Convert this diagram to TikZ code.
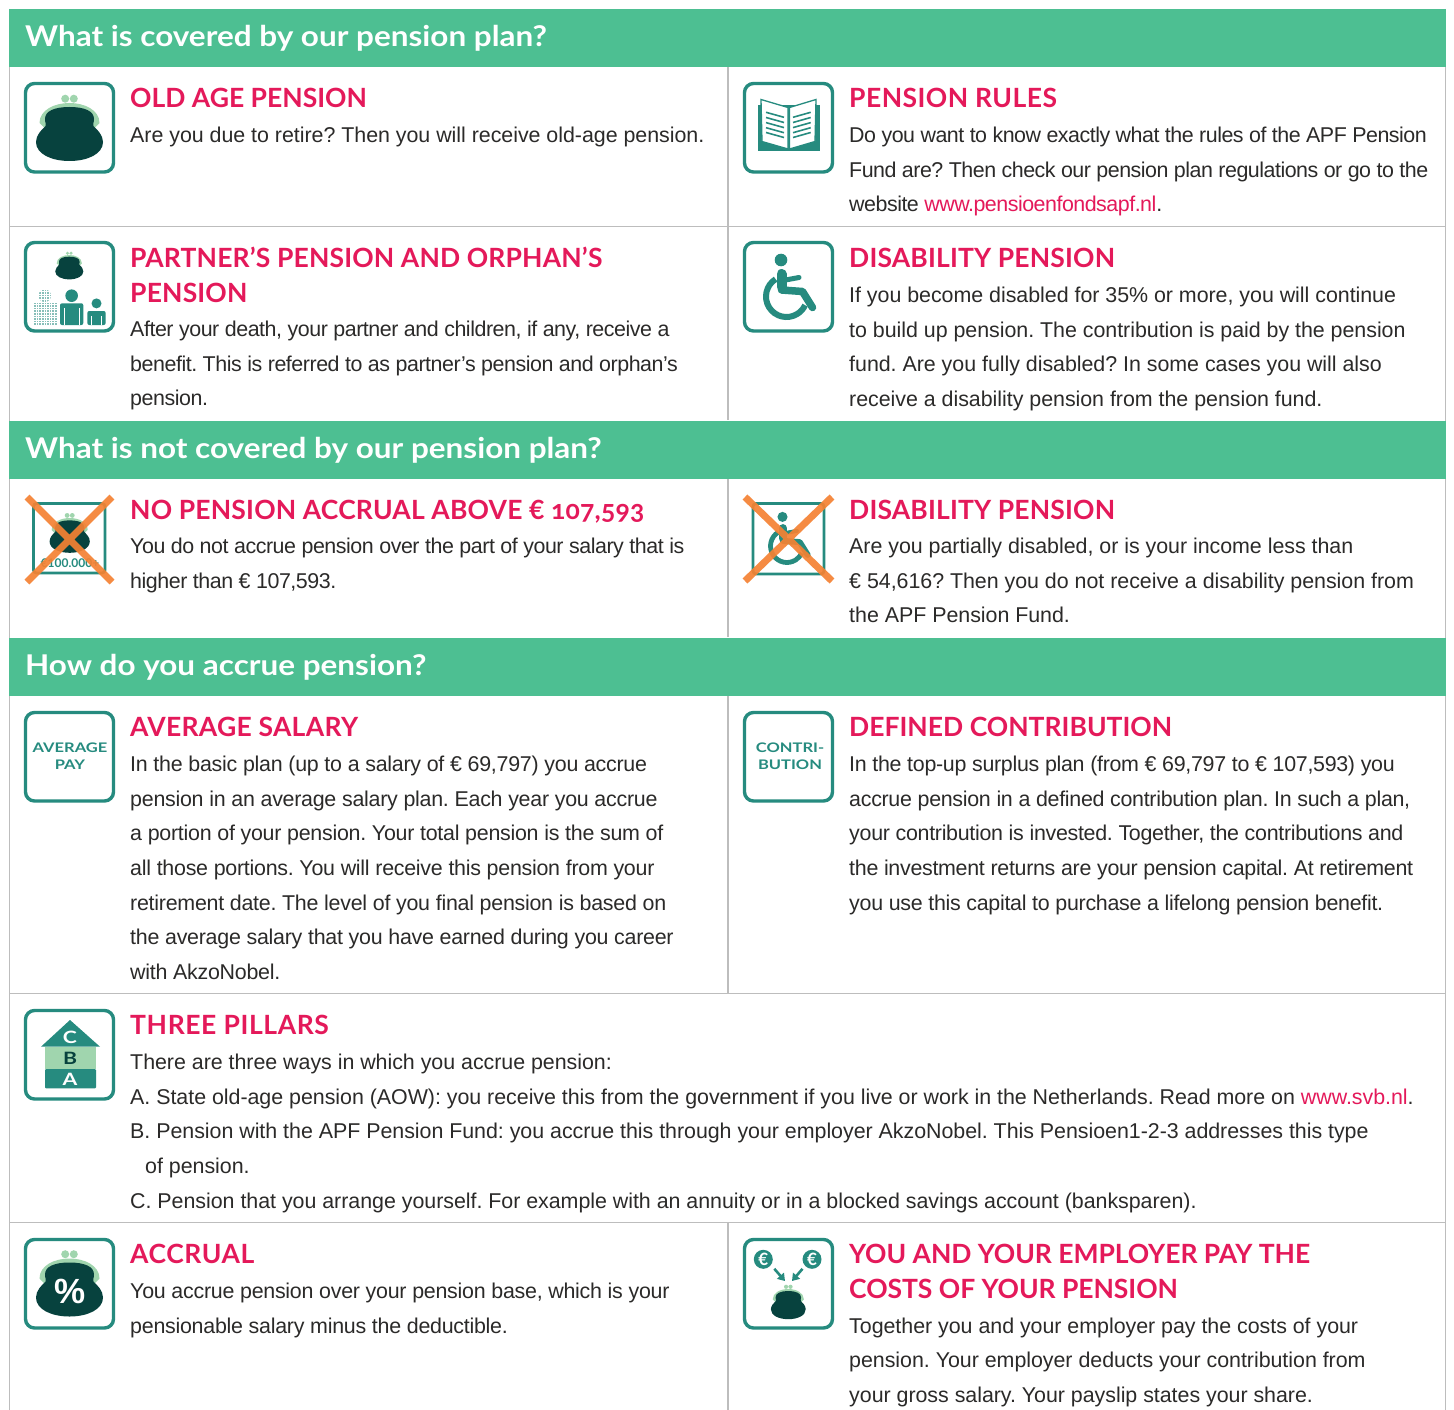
\documentclass[tikz,border=0pt]{standalone}
\usepackage{fontspec}
\usetikzlibrary{arrows.meta}
\setmainfont{Liberation Sans}
\newfontfamily\headfont[Numbers=OldStyle]{Lato}
\newfontfamily\liningfont{Lato}
\newfontfamily\bandfont[FakeStretch=1.1]{Lato}
\newfontfamily\iconfont[FakeStretch=1.25]{Lato}
\definecolor{bandgreen}{HTML}{4DBF92}
\definecolor{headred}{HTML}{E4195A}
\definecolor{iconteal}{HTML}{268B7F}
\definecolor{darkteal}{HTML}{07423E}
\definecolor{lightgreen}{HTML}{A0D5AE}
\definecolor{crossorange}{HTML}{F58233}
\definecolor{bodyink}{HTML}{2B2A29}
\definecolor{gridgrey}{HTML}{BDBDBD}
\tikzset{
  x=1pt,y=-1pt,
  band/.style={fill=bandgreen,draw=none},
  bandtext/.style={anchor=base west,inner sep=0,text=white,font=\bandfont\bfseries\fontsize{28.6}{35}\selectfont},
  gridline/.style={draw=gridgrey,line width=1.4pt},
  iconbox/.style={draw=iconteal,line width=3.4pt,rounded corners=9pt,fill=white},
  headtext/.style={anchor=north west,inner sep=0,align=left,text=headred},
  bodytext/.style={anchor=north west,inner sep=0,align=left,text=bodyink},
  icontext/.style={inner sep=0,text=iconteal,align=center,font=\iconfont\bfseries\fontsize{13.2}{17}\selectfont},
  lettertext/.style={inner sep=0,font=\iconfont\bfseries\fontsize{17}{20}\selectfont},
  cointext/.style={circle,fill=iconteal,minimum size=19pt,inner sep=0,text=white,font=\liningfont\bfseries\fontsize{17}{18}\selectfont},
  crossline/.style={draw=crossorange,line width=7pt,opacity=.92},
}
\newcommand\headat[5][0]{\node[headtext,font={\headfont\bfseries\fontsize{26.5}{35}\selectfont\addfontfeature{LetterSpace=#1}}] (#2) at (#3,#4-24) {\rule{0pt}{24pt}#5};}
\newcommand\bodyat[5][-0.15]{\node[bodytext,font={\frenchspacing\fontsize{21.4}{34.6}\selectfont\addfontfeature{LetterSpace=#1}}] (#2) at (#3,#4-20) {\rule{0pt}{20pt}#5};}
\newcommand\red[1]{\textcolor{headred}{#1}}
\newcommand\pursedraw[3]{%
\begin{scope}[shift={(#1,#2)},scale=#3]
 \fill[lightgreen] (-4.3,-29.3) circle (4) (4.3,-29.3) circle (4);
 \fill[lightgreen] (-25,0) -- (-30,-5) .. controls (-30,-18) and (-15,-25) .. (0,-25) .. controls (15,-25) and (30,-18) .. (30,-5) -- (25,0) -- cycle;
 \fill[darkteal] (0,-21) .. controls (15,-21) and (24.5,-17) .. (24.5,-9) .. controls (24.5,-5) and (23,-4) .. (24,-2) .. controls (28,2) and (33.5,7) .. (33.5,14) .. controls (33.5,26) and (18,33) .. (0,33) .. controls (-18,33) and (-33.5,26) .. (-33.5,14) .. controls (-33.5,7) and (-28,2) .. (-24,-2) .. controls (-23,-4) and (-24.5,-5) .. (-24.5,-9) .. controls (-24.5,-17) and (-15,-21) .. (0,-21) -- cycle;
\end{scope}}
\newcommand\wheeldraw[3]{%
\begin{scope}[shift={(#1,#2)},scale=#3]
 \fill[iconteal] (-7.5,-27) circle (6.3);
 \draw[iconteal,line width=#3*10pt,line cap=round,line join=round] (-7,-13) -- (-7,0);
 \draw[iconteal,line width=#3*7.5pt,line cap=round,line join=round] (-7,3) -- (14,4.5) -- (24,20.5);
 \draw[iconteal,line width=#3*5pt,line cap=round] (-3,-7) -- (10.5,-9.5);
 \draw[iconteal,line width=#3*6pt] (-12.86,-7.88) arc (238:25:20.5);
\end{scope}}
\newcommand\persondraw[6]{% x0 x1 top bottom headr fillcolour
 \fill[#6] ({(#1+#2)/2},{#3-7.6}) circle (#5);
 \fill[#6,rounded corners=2pt] (#1,#4) -- (#1,#3) -- (#2,#3) -- (#2,#4) -- cycle;
 \draw[white,line width=1pt] ({#1+4},{#3+5}) -- ({#1+4},#4) ({#2-4},{#3+5}) -- ({#2-4},#4);
}
\begin{document}
\begin{tikzpicture}
\useasboundingbox[fill=white] (0,0) rectangle (1454,1410);
% frame and grid
\draw[gridline] (9.5,9) -- (9.5,1410) (1445.5,9) -- (1445.5,1410);
\draw[gridline] (728,67) -- (728,420) (728,478) -- (728,637) (728,696) -- (728,993) (728,1222) -- (728,1410);
\draw[gridline] (9,226.5) -- (1446,226.5) (9,993.5) -- (1446,993.5) (9,1222.5) -- (1446,1222.5);
% bands
\fill[band] (9,9) rectangle (1446,67.5);
\fill[band] (9,420.5) rectangle (1446,478.5);
\fill[band] (9,637.5) rectangle (1446,696);
\node[bandtext] (band1) at (25,47) {What is covered by our pension plan?};
\node[bandtext] (band2) at (25,458) {What is not covered by our pension plan?};
\node[bandtext] (band3) at (25,675) {How do you accrue pension?};
% icon: old age
\draw[iconbox] (25.5,83.5) rectangle (113.5,172);
\pursedraw{69.5}{128}{1}
% icon: book
\draw[iconbox] (744.5,83.5) rectangle (832.5,172);
\fill[iconteal] (757.5,105) rectangle (819.5,151);
\fill[white,draw=iconteal,line width=1.3pt] (761,99.5) -- (788,107.5) -- (788,149) -- (762,141.5) -- cycle;
\fill[white,draw=iconteal,line width=1.3pt] (816,99.5) -- (789.5,107.5) -- (789.5,149) -- (815,141.5) -- cycle;
\foreach \d in {0,5.2,10.3,15.4,20.2}{
 \draw[iconteal,line width=1.6pt] (766,112.3+\d) -- (784,117.3+\d);
 \draw[iconteal,line width=1.6pt] (793,117.3+\d) -- (810.7,112.3+\d);
}
% icon: partner
\draw[iconbox] (25.5,242.5) rectangle (113.5,331);
\pursedraw{69.3}{265.5}{.42}
\begin{scope}
 \fill[iconteal!55!white] (44.7,295.7) circle (6.3);
 \fill[iconteal!55!white] (32.7,303.3) rectangle (56.7,325);
 \foreach \d in {0,1,...,9}{\draw[white,line width=.8pt] (33.5+\d*2.6,287) -- (33.5+\d*2.6,325);}
 \foreach \d in {0,1,...,14}{\draw[white,line width=.8pt] (32,289+\d*2.6) -- (57.5,289+\d*2.6);}
\end{scope}
\persondraw{60}{83.3}{303.3}{325}{6.3}{iconteal}
\persondraw{87.3}{105.7}{311}{325}{5}{iconteal}
% icon: wheelchair
\draw[iconbox] (744.5,242.5) rectangle (832.5,331);
\wheeldraw{788.5}{287}{1}
% icon: no accrual
\draw[iconbox,line width=2.8pt,rounded corners=3pt] (33.5,503.5) rectangle (105,573);
\pursedraw{69.7}{533}{.6}
\node[icontext,font=\liningfont\bfseries\fontsize{12}{14}\selectfont] (limit) at (70,563) {€100.000+};
\draw[crossline] (27,497) -- (112,582) (112,497) -- (27,582);
% icon: no disability
\draw[iconbox,line width=2.8pt,rounded corners=3pt] (753,503.5) rectangle (824,574);
\wheeldraw{788.5}{538.5}{.8}
\draw[crossline] (745,497) -- (832,581) (832,497) -- (745,581);
% icon: average
\draw[iconbox] (25.5,712.5) rectangle (113.5,801);
\node[icontext] (avg) at (70,756.5) {AVERAGE\\PAY};
% icon: contribution
\draw[iconbox] (744.5,712.5) rectangle (832.5,801);
\node[icontext] (contri) at (790,756.5) {CONTRI-\\BUTION};
% icon: pillars
\draw[iconbox] (25.5,1010.5) rectangle (113.5,1099);
\fill[iconteal] (41,1046.7) -- (70,1020) -- (100,1046.7) -- cycle;
\fill[lightgreen] (45,1047) rectangle (96,1068.5);
\fill[iconteal,rounded corners=1pt] (45,1069) rectangle (96,1088.3);
\node[lettertext,text=white] (pc) at (70,1037.5) {C};
\node[lettertext,text=darkteal] (pb) at (70,1058.5) {B};
\node[lettertext,text=white] (pa) at (70,1079) {A};
% icon: accrual
\draw[iconbox] (25.5,1239.5) rectangle (113.5,1328);
\pursedraw{69.5}{1283.5}{1}
\node[inner sep=0,text=white,font=\bfseries\fontsize{35}{38}\selectfont] (pct) at (70,1291) {\%};
% icon: employer
\draw[iconbox] (744.5,1239.5) rectangle (832.5,1328);
\pursedraw{788.3}{1302}{.52}
\node[cointext] (coinl) at (763.3,1259.3) {€};
\node[cointext] (coinr) at (812,1259.3) {€};
\coordinate (purseL) at (785,1281);
\coordinate (purseR) at (792,1281);
\draw[iconteal,line width=2.6pt,-{Triangle[length=7pt,width=9pt]}] (coinl) ++(11,9.5) -- (purseL);
\draw[iconteal,line width=2.6pt,-{Triangle[length=7pt,width=9pt]}] (coinr) ++(-9.5,9.5) -- (purseR);
% texts
\headat{h1}{130}{107.5}{OLD AGE PENSION}
\bodyat{b1}{130}{142.5}{Are you due to retire? Then you will receive old-age pension.}
\headat[1.7]{h2}{849}{107.5}{PENSION RULES}
\bodyat[-2.25]{b2}{849}{142.5}{Do you want to know exactly what the rules of the APF Pension\\Fund are? Then check our pension plan regulations or go to the\\website \red{www.pensioenfondsapf.nl}.}
\headat[.6]{h3}{130}{267}{PARTNER’S PENSION AND ORPHAN’S\\PENSION}
\bodyat[-2.1]{b3}{130}{336.5}{After your death, your partner and children, if any, receive a\\benefit. This is referred to as partner’s pension and orphan’s\\pension.}
\headat[.6]{h4}{849}{267}{DISABILITY PENSION}
\bodyat{b4}{849}{302.5}{If you become disabled for 35\% or more, you will continue\\to build up pension. The contribution is paid by the pension\\fund. Are you fully disabled? In some cases you will also\\receive a disability pension from the pension fund.}
\headat[.7]{h5}{130}{519}{NO PENSION ACCRUAL ABOVE {\liningfont\bfseries €} 107,593}
\bodyat[-2.1]{b5}{130}{553.5}{You do not accrue pension over the part of your salary that is\\higher than € 107,593.}
\headat[.6]{h6}{849}{519}{DISABILITY PENSION}
\bodyat{b6}{849}{553.5}{Are you partially disabled, or is your income less than\\€ 54,616? Then you do not receive a disability pension from\\the APF Pension Fund.}
\headat[1.1]{h7}{130}{736}{AVERAGE SALARY}
\bodyat[-1.2]{b7}{130}{771.5}{In the basic plan (up to a salary of € 69,797) you accrue\\pension in an average salary plan. Each year you accrue\\a portion of your pension. Your total pension is the sum of\\all those portions. You will receive this pension from your\\retirement date. The level of you final pension is based on\\the average salary that you have earned during you career\\with AkzoNobel.}
\headat{h8}{849}{736}{DEFINED CONTRIBUTION}
\bodyat[-1.35]{b8}{849}{771.5}{In the top-up surplus plan (from € 69,797 to € 107,593) you\\accrue pension in a defined contribution plan. In such a plan,\\your contribution is invested. Together, the contributions and\\the investment returns are your pension capital. At retirement\\you use this capital to purchase a lifelong pension benefit.}
\headat[2.3]{h9}{130}{1034}{THREE PILLARS}
\bodyat{b9}{130}{1069.5}{There are three ways in which you accrue pension:\\A. State old-age pension (AOW): you receive this from the government if you live or work in the Netherlands. Read more on \red{www.svb.nl}.\\B. Pension with the APF Pension Fund: you accrue this through your employer AkzoNobel. This Pensioen1-2-3 addresses this type\\\hspace*{15pt}of pension.\\C. Pension that you arrange yourself. For example with an annuity or in a blocked savings account (banksparen).}
\headat[2.1]{h10}{130}{1263}{ACCRUAL}
\bodyat[-1.2]{b10}{130}{1298.5}{You accrue pension over your pension base, which is your\\pensionable salary minus the deductible.}
\headat[-.2]{h11}{849}{1263}{YOU AND YOUR EMPLOYER PAY THE\\COSTS OF YOUR PENSION}
\bodyat{b11}{849}{1333}{Together you and your employer pay the costs of your\\pension. Your employer deducts your contribution from\\your gross salary. Your payslip states your share.}
\end{tikzpicture}
\end{document}
